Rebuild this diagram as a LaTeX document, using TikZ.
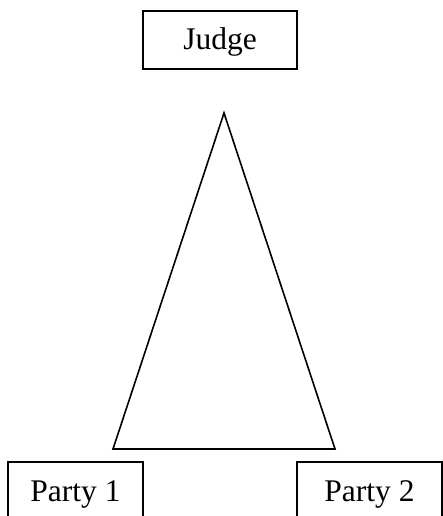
\documentclass[tikz,border=0pt]{standalone}
\usepackage{fontspec}
\setmainfont{Liberation Serif}
\begin{document}
\begin{tikzpicture}[x=1pt,y=1pt,line width=1.6pt,
        label box/.style={draw,rectangle,inner sep=0pt,text height=17pt,text depth=7pt,font=\fontsize{31.5}{36}\selectfont}]
        \clip (0,0) rectangle (443,516);
        \fill[white] (0,0) rectangle (443,516);
        \node[label box,minimum width=154,minimum height=58,text height=27pt] (judge) at (220,476) {Judge};
        \node[label box,minimum width=135,minimum height=70] (party1) at (75.5,19) {Party 1};
        \node[label box,minimum width=145,minimum height=70] (party2) at (369.5,19) {Party 2};
        \draw[line join=miter] (224,403) -- (113,67) -- (335,67) -- cycle;
    \end{tikzpicture}
\end{document}
